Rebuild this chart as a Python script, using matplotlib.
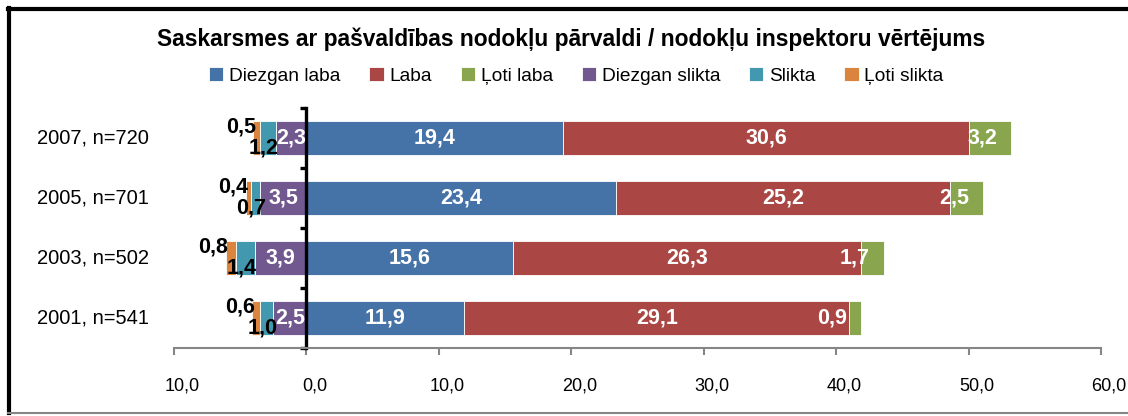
import numpy as np
import matplotlib
matplotlib.use("Agg")
import matplotlib.pyplot as plt
from matplotlib import font_manager
from matplotlib.lines import Line2D
from matplotlib.transforms import ScaledTranslation

# data
categories = ["2001, n=541", "2003, n=502", "2005, n=701", "2007, n=720"]
diezgan_laba = [11.9, 15.6, 23.4, 19.4]
laba = [29.1, 26.3, 25.2, 30.6]
loti_laba = [0.9, 1.7, 2.5, 3.2]
diezgan_slikta = [2.5, 3.9, 3.5, 2.3]
slikta = [1.0, 1.4, 0.7, 1.2]
loti_slikta = [0.6, 0.8, 0.4, 0.5]
xticks = [-10, 0, 10, 20, 30, 40, 50, 60]
series_names = ["Diezgan laba", "Laba", "Ļoti laba",
                "Diezgan slikta", "Slikta", "Ļoti slikta"]

colors = ["#4572A7", "#AA4643", "#89A54E", "#71588F", "#4198AF", "#DB843D"]

names = {f.name for f in font_manager.fontManager.ttflist}
narrow = "Liberation Sans Narrow" if "Liberation Sans Narrow" in names \
    else "Liberation Sans"
plt.rcParams["font.family"] = ["Liberation Sans", "DejaVu Sans"]


def fmt(v):
    return ("%.1f" % v).replace(".", ",")


fig = plt.figure(figsize=(11.28, 4.16), dpi=100)
ax = fig.add_axes([174 / 1128, 68 / 416, 927 / 1128, 240 / 416])

y = np.arange(len(categories))
h = 0.57
dl = np.array(diezgan_laba)
la = np.array(laba)
ll = np.array(loti_laba)
ds = np.array(diezgan_slikta)
sl = np.array(slikta)
ls = np.array(loti_slikta)

kw = dict(height=h, edgecolor="white", linewidth=0.6)
b_dl = ax.barh(y, dl, left=0, color=colors[0], **kw)
b_la = ax.barh(y, la, left=dl, color=colors[1], **kw)
b_ll = ax.barh(y, ll, left=dl + la, color=colors[2], **kw)
b_ds = ax.barh(y, ds, left=-ds, color=colors[3], **kw)
b_sl = ax.barh(y, sl, left=-(ds + sl), color=colors[4], **kw)
b_ls = ax.barh(y, ls, left=-(ds + sl + ls), color=colors[5], **kw)

lab = dict(fontsize=15.5, fontweight="bold", family=[narrow, "DejaVu Sans"])
for i in y:
    ax.text(dl[i] / 2, i, fmt(dl[i]), ha="center", va="center",
            color="white", **lab)
    ax.text(dl[i] + la[i] / 2, i, fmt(la[i]), ha="center", va="center",
            color="white", **lab)
    ax.annotate(fmt(ll[i]), (dl[i] + la[i] + ll[i], i), xytext=(-10, 0),
                textcoords="offset points", ha="right", va="center",
                color="white", **lab)
    ax.text(-ds[i] / 2, i, fmt(ds[i]), ha="center", va="center",
            color="white", **lab)
    ax.annotate(fmt(sl[i]), (-(ds[i] + sl[i] / 2), i), xytext=(-3, -7),
                textcoords="offset points", ha="center", va="center",
                color="black", **lab)
    ax.annotate(fmt(ls[i]), (-(ds[i] + sl[i] + ls[i]), i), xytext=(2, 8),
                textcoords="offset points", ha="right", va="center",
                color="black", **lab)

ax.set_xlim(-10, 60)
ax.set_ylim(-0.5, len(categories) - 0.5)

# axes styling
ax.spines["top"].set_visible(False)
ax.spines["right"].set_visible(False)
ax.spines["left"].set_position(("data", 0))
ax.spines["left"].set_linewidth(2.4)
ax.spines["left"].set_color("black")
ax.spines["bottom"].set_color("#868686")
ax.spines["bottom"].set_linewidth(1.5)

ax.set_yticks(np.arange(-0.5, len(categories), 1.0))
ax.set_yticklabels([])
ax.tick_params(axis="y", direction="out", length=4, width=2.4, color="black")
for i, c in enumerate(categories):
    ax.text(-0.027, i, c, transform=ax.get_yaxis_transform(), ha="right",
            va="center", fontsize=14.5)

ax.set_xticks(xticks)
ax.set_xticklabels([fmt(abs(t)) for t in xticks], fontsize=13)
ax.tick_params(axis="x", direction="out", length=5, width=1.5,
               color="#868686", pad=16)
shift = ScaledTranslation(8 / 100, 0, fig.dpi_scale_trans)
for t in ax.get_xticklabels():
    t.set_transform(t.get_transform() + shift)

fig.text(0.506, 0.905,
         "Saskarsmes ar pašvaldības nodokļu pārvaldi / nodokļu inspektoru vērtējums",
         ha="center", va="center", fontsize=16.4, fontweight="bold",
         family=[narrow, "DejaVu Sans"])

fig.legend([b_dl, b_la, b_ll, b_ds, b_sl, b_ls], series_names,
           loc="center", bbox_to_anchor=(0.511, 0.818), ncol=6,
           frameon=False, handlelength=0.75, handleheight=0.75,
           handletextpad=0.3, columnspacing=1.5,
           prop={"family": [narrow, "DejaVu Sans"], "size": 13.8})

# chart frame
fig.add_artist(Line2D([8 / 1128, 1], [1 - 9 / 416, 1 - 9 / 416],
                      color="black", lw=3, transform=fig.transFigure))
fig.add_artist(Line2D([9 / 1128, 9 / 1128], [3 / 416, 1 - 8 / 416],
                      color="black", lw=3, transform=fig.transFigure))
fig.add_artist(Line2D([8 / 1128, 1], [3 / 416, 3 / 416],
                      color="#868686", lw=1.5, transform=fig.transFigure))

fig.savefig("out.png", dpi=100)
